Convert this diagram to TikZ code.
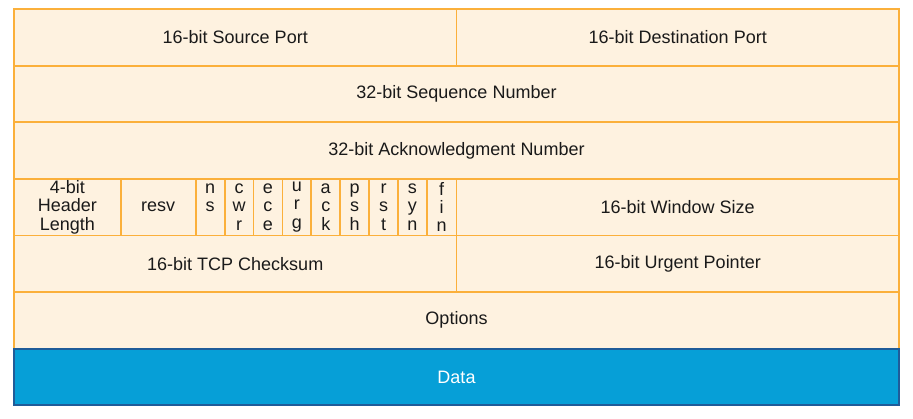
\documentclass[tikz,border=0pt]{standalone}
\usepackage{fontspec}
\setmainfont{Liberation Sans}
\definecolor{cellfill}{HTML}{FEF2E0}
\definecolor{cellline}{HTML}{FBB03B}
\definecolor{datafill}{HTML}{069FD7}
\definecolor{dataline}{HTML}{1F5C99}
\definecolor{txt}{HTML}{1A1A1A}
\tikzset{
  cell/.style={draw=cellline, fill=cellfill, line width=1.8pt, inner sep=0pt, outer sep=0pt,
    anchor=north west, align=center, text=txt,
    font=\fontsize{18}{18.3}\selectfont},
  datacell/.style={cell, draw=dataline, fill=datafill, text=white},
}
\newcommand{\mycell}[7][cell]{%
  \node[#1, minimum width={(#5-#3)*1pt}, minimum height={(#6-#4)*1pt}] (#2) at (#3,#4) {#7};}
\begin{document}
\begin{tikzpicture}[x=1pt,y=-1pt]
\useasboundingbox (0,0) rectangle (913,418);
% rows: 9, 65.6, 122.2, 178.8, 235.4, 292, 348.6, 405.2
\mycell{src}{14}{9}{456.5}{65.6}{16-bit Source Port}
\mycell{dst}{456.5}{9}{899}{65.6}{16-bit Destination Port}
\mycell{seq}{14}{65.6}{899}{122.2}{32-bit Sequence Number}
\mycell{ack}{14}{122.2}{899}{178.8}{32-bit Acknowledgment Number}
\mycell{hlen}{14}{178.8}{120.7}{235.4}{4-bit\\Header\\Length}
\mycell{resv}{120.7}{178.8}{195.7}{235.4}{resv}
\mycell{fns}{195.7}{178.8}{224.6}{235.4}{n\\s\\\phantom{n}}
\mycell{fcwr}{224.6}{178.8}{253.5}{235.4}{c\\w\\r}
\mycell{fece}{253.5}{178.8}{282.4}{235.4}{e\\c\\e}
\mycell{furg}{282.4}{178.8}{311.3}{235.4}{u\\r\\g}
\mycell{fack}{311.3}{178.8}{340.2}{235.4}{a\\c\\k}
\mycell{fpsh}{340.2}{178.8}{369.1}{235.4}{p\\s\\h}
\mycell{frst}{369.1}{178.8}{398.0}{235.4}{r\\s\\t}
\mycell{fsyn}{398.0}{178.8}{426.9}{235.4}{s\\y\\n}
\mycell{ffin}{426.9}{178.8}{456.5}{235.4}{f\\i\\n}
\mycell{win}{456.5}{178.8}{899}{235.4}{16-bit Window Size}
\mycell{chk}{14}{235.4}{456.5}{292}{16-bit TCP Checksum}
\mycell{urg}{456.5}{235.4}{899}{292}{16-bit Urgent Pointer}
\mycell{opt}{14}{292}{899}{348.6}{Options}
\mycell[datacell]{data}{14}{348.6}{899}{405.2}{Data}
\end{tikzpicture}
\end{document}
